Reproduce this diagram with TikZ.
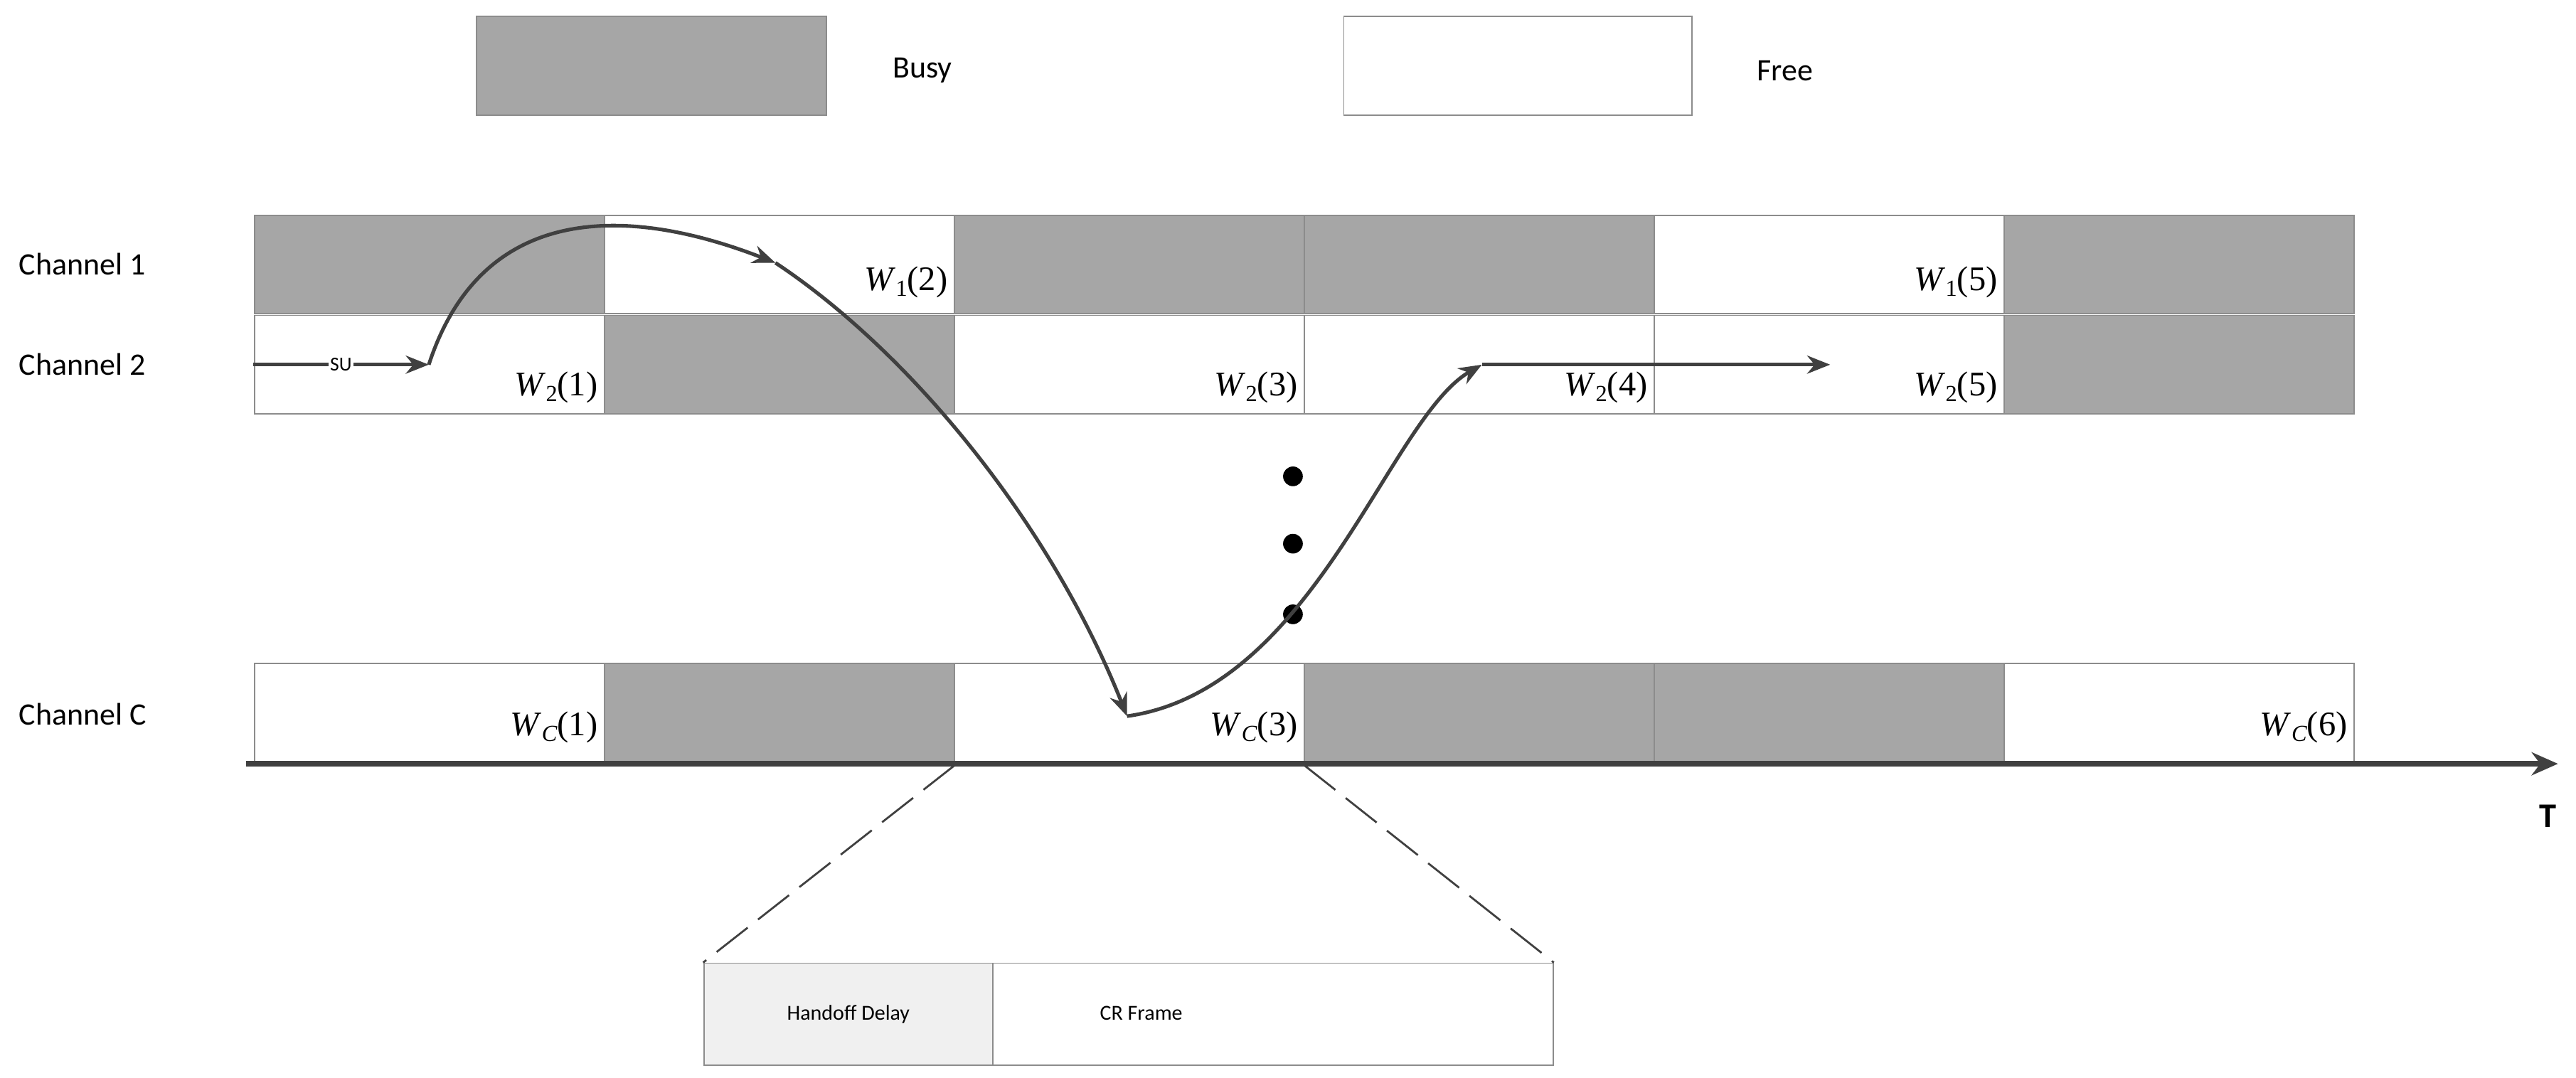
\documentclass[tikz,border=0pt]{standalone}
\usepackage{fontspec}
\setmainfont{Carlito}
\newfontfamily\tms{Liberation Serif}
\usetikzlibrary{arrows.meta}
\definecolor{busy}{HTML}{A6A6A6}
\definecolor{arr}{HTML}{404040}
\newcommand{\WL}[2]{{\tms\fontsize{21}{21}\selectfont\textit{W}\raisebox{-0.35ex}{\fontsize{14}{14}\selectfont #1}(#2)}}
\begin{document}
\begin{tikzpicture}[x=1pt,y=-1pt,
  cell/.style={draw=black!45,line width=0.8pt},
  lab/.style={font=\fontsize{19}{19}\selectfont,anchor=west},
  wl/.style={anchor=east,inner sep=2pt},
  conn/.style={draw=arr,line width=2.2pt,-{Stealth[length=14pt,width=11pt]}}]
\useasboundingbox (0,0) rectangle (1568,656);
% legend
\filldraw[cell,fill=busy] (290,10) rectangle (503,70);
\node[lab] at (540,43) {Busy};
\filldraw[cell,fill=white] (818,10) rectangle (1030,70);
\node[lab] at (1066,43) {Free};
% rows
\foreach \i/\f in {0/busy,1/white,2/busy,3/busy,4/white,5/busy}
  \filldraw[cell,fill=\f] (155+213*\i,131) rectangle ++(213,60);
\foreach \i/\f in {0/white,1/busy,2/white,3/white,4/white,5/busy}
  \filldraw[cell,fill=\f] (155+213*\i,192) rectangle ++(213,60);
\foreach \i/\f in {0/white,1/busy,2/white,3/busy,4/busy,5/white}
  \filldraw[cell,fill=\f] (155+213*\i,404) rectangle ++(213,60);
\node[lab] (c1) at (8,161) {Channel 1};
\node[lab] (c2) at (8,222) {Channel 2};
\node[lab] (cc) at (8,435) {Channel C};
% cell labels
\node[wl] at (366,236) {\WL{2}{1}};
\node[wl] at (579,172) {\WL{1}{2}};
\node[wl] at (792,236) {\WL{2}{3}};
\node[wl] at (1005,236) {\WL{2}{4}};
\node[wl] at (1218,172) {\WL{1}{5}};
\node[wl] at (1218,236) {\WL{2}{5}};
\node[wl] at (366,443) {\WL{\textit{C}}{1}};
\node[wl] at (792,443) {\WL{\textit{C}}{3}};
\node[wl] at (1431,443) {\WL{\textit{C}}{6}};
% axis
\coordinate (a0) at (150,465);
\coordinate (a1) at (1557,465);
\draw[draw=arr,line width=3.5pt,-{Stealth[length=16pt,width=14pt]}] (a0) -- (a1);
\node[font=\fontsize{21}{21}\selectfont\bfseries] (T) at (1551,497) {T};
% dots
\foreach \y in {290,331,374} \fill (787,\y) circle (6);
% SU path
\coordinate (s0) at (154,222);
\coordinate (p1) at (261,222);
\coordinate (p2) at (472,160);
\coordinate (p3) at (686,436);
\coordinate (p4) at (902,222);
\coordinate (p5) at (1114,222);
\draw[conn] (s0) -- node[fill=white,inner sep=1pt,font=\fontsize{12}{12}\selectfont]{SU} (p1);
\draw[conn] (p1) .. controls (295,118) and (390,128) .. (p2);
\draw[conn] (p2) .. controls (555,215) and (640,320) .. (p3);
\draw[conn] (p3) .. controls (800,420) and (845,255) .. (p4);
\draw[conn] (p4) -- (p5);
% zoom box
\node[draw=black!45,line width=0.8pt,fill=black!6,minimum width=176pt,minimum height=62pt,inner sep=0,
      font=\fontsize{13}{13}\selectfont,anchor=north west] (hd) at (428,586) {Handoff Delay};
\node[draw=black!45,line width=0.8pt,fill=white,minimum width=341pt,minimum height=62pt,inner sep=0,
      anchor=north west] (cr) at (604,586) {};
\node[font=\fontsize{13}{13}\selectfont,anchor=west] at (666,617) {CR Frame};
\coordinate (z0) at (581,466);
\coordinate (z1) at (794,466);
\draw[line width=1.2pt,dash pattern=on 24pt off 8pt,black!75] (z0) -- (hd.north west);
\draw[line width=1.2pt,dash pattern=on 24pt off 8pt,black!75] (z1) -- (cr.north east);
\end{tikzpicture}
\end{document}
